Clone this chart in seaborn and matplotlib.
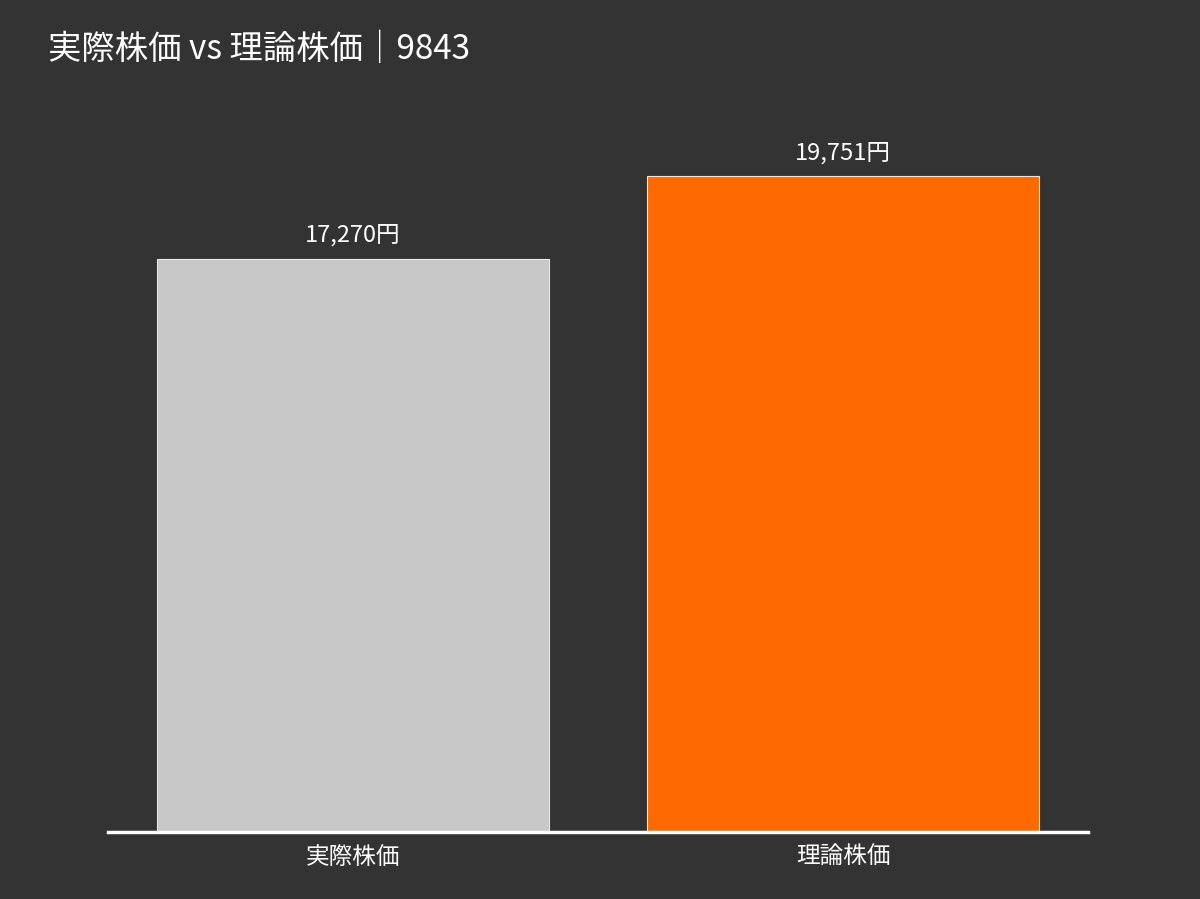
import matplotlib.pyplot as plt
import seaborn as sns
import pandas as pd

plt.switch_backend("Agg")

categories = ["実際株価", "理論株価"]
values = [17270, 19751]
colors = ["#c8c8c8", "#ff6a00"]
title = "実際株価 vs 理論株価｜9843"

sns.set_style("dark")
plt.rcParams["font.family"] = ["Noto Sans CJK JP", "DejaVu Sans"]

bg = "#333333"
fig = plt.figure(figsize=(12, 8.99), dpi=100, facecolor=bg)
ax = fig.add_axes([0.09, 0.0745, 0.8167, 0.814])
ax.set_facecolor(bg)

df = pd.DataFrame({"cat": categories, "val": values})
sns.barplot(data=df, x="cat", y="val", hue="cat", palette=colors, legend=False,
            width=0.8, edgecolor="#e8e8e8", linewidth=0.8, ax=ax, saturation=1)

for i, v in enumerate(values):
    ax.text(i, v + 350, f"{v:,}円", ha="center", va="bottom", color="white", fontsize=17)

ax.set_ylim(0, 22040)
ax.set_xlim(-0.5, 1.5)
ax.set_yticks([])
ax.set_xlabel("")
ax.set_ylabel("")
ax.tick_params(axis="x", colors="white", labelsize=17, length=0, pad=10)
for s in ["top", "right", "left"]:
    ax.spines[s].set_visible(False)
ax.spines["bottom"].set_color("white")
ax.spines["bottom"].set_linewidth(2.5)
ax.grid(False)

fig.text(0.04, 0.945, title, color="white", fontsize=24, ha="left", va="center")

plt.savefig("out.png", dpi=100, facecolor=bg)
